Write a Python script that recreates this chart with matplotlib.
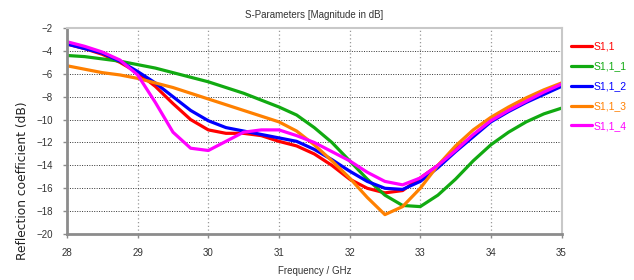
import numpy as np
import matplotlib
matplotlib.use('Agg')
import matplotlib.pyplot as plt

freq = [28, 28.25, 28.5, 28.75, 29, 29.25, 29.5, 29.75, 30, 30.25, 30.5, 30.75,
        31, 31.25, 31.5, 31.75, 32, 32.25, 32.5, 32.75, 33, 33.25, 33.5, 33.75,
        34, 34.25, 34.5, 34.75, 35]

s11 = [-3.4, -3.8, -4.3, -5.0, -5.9, -7.1, -8.6, -10.0, -10.9, -11.2, -11.2, -11.4,
       -11.9, -12.3, -13.0, -14.0, -15.2, -16.0, -16.4, -16.2, -15.1, -14.0, -12.6, -11.4,
       -10.1, -9.2, -8.4, -7.7, -7.0]
s11_1 = [-4.4, -4.5, -4.7, -4.9, -5.2, -5.5, -5.9, -6.3, -6.7, -7.2, -7.7, -8.3,
         -8.9, -9.6, -10.7, -12.0, -13.6, -15.2, -16.6, -17.5, -17.6, -16.6, -15.2, -13.6,
         -12.2, -11.1, -10.2, -9.5, -9.0]
s11_2 = [-3.4, -3.8, -4.2, -4.9, -5.8, -6.8, -8.0, -9.2, -10.1, -10.7, -11.0, -11.3,
         -11.6, -11.9, -12.6, -13.5, -14.5, -15.4, -16.0, -16.1, -15.4, -14.2, -12.8, -11.5,
         -10.2, -9.3, -8.5, -7.8, -7.1]
s11_3 = [-5.3, -5.6, -5.9, -6.1, -6.4, -6.8, -7.2, -7.7, -8.2, -8.7, -9.2, -9.7,
         -10.2, -11.0, -12.2, -13.6, -15.1, -16.8, -18.3, -17.6, -16.0, -14.0, -12.3, -10.9,
         -9.8, -8.9, -8.1, -7.4, -6.8]
s11_4 = [-3.2, -3.6, -4.1, -4.8, -6.1, -8.5, -11.1, -12.5, -12.7, -11.9, -11.1, -10.9,
         -10.9, -11.4, -12.0, -12.8, -13.6, -14.6, -15.4, -15.7, -15.1, -14.0, -12.7, -11.3,
         -10.1, -9.2, -8.4, -7.6, -6.9]

labels = ['S1,1', 'S1,1_1', 'S1,1_2', 'S1,1_3', 'S1,1_4']
colors = ['#ff0000', '#11aa11', '#0000ff', '#ff8000', '#ff00ff']

narrow = ['Liberation Sans Narrow', 'Liberation Sans', 'DejaVu Sans']

fig = plt.figure(figsize=(6.34, 2.8), dpi=100)
ax = fig.add_axes([0.1057, 0.164, 0.78, 0.736])

for vals, lab, col in zip([s11, s11_1, s11_2, s11_3, s11_4], labels, colors):
    ax.plot(freq, vals, color=col, lw=2.3, label=lab,
            solid_joinstyle='round', solid_capstyle='round')

ax.set_xlim(28, 35)
ax.set_ylim(-20, -2)
ax.set_xticks(np.arange(28, 36, 1))
ax.set_yticks(np.arange(-20, -1, 2))
ax.xaxis.grid(True, linestyle=(0, (1, 2)), color='#999999', lw=0.9)
ax.yaxis.grid(True, linestyle=(0, (1, 1.5)), color='#333333', lw=0.7)

for s in ['left', 'bottom']:
    ax.spines[s].set_color('#8c8c8c')
    ax.spines[s].set_linewidth(2)
for s in ['top', 'right']:
    ax.spines[s].set_color('#c8c8c8')
    ax.spines[s].set_linewidth(1.5)
ax.tick_params(length=3, width=1, color='#8c8c8c', labelsize=7, pad=7)
for t in ax.get_xticklabels() + ax.get_yticklabels():
    t.set_family(narrow)
    t.set_color('#333333')

ax.set_title('S-Parameters [Magnitude in dB]', fontsize=7, family=narrow, color='#333333', pad=7)
ax.set_xlabel('Frequency / GHz', fontsize=7, family=narrow, color='#333333', labelpad=6)
fig.text(0.035, 0.355, 'Reflection coefficient (dB)', rotation=90, fontsize=8.8,
         color='#222222', ha='center', va='center')

leg = ax.legend(loc='upper left', bbox_to_anchor=(1.0, 0.98), frameon=False,
                handlelength=2.0, labelspacing=0.95, handletextpad=0.2,
                labelcolor='linecolor', prop={'family': narrow, 'size': 7.5})

plt.savefig('out.png', dpi=100)
